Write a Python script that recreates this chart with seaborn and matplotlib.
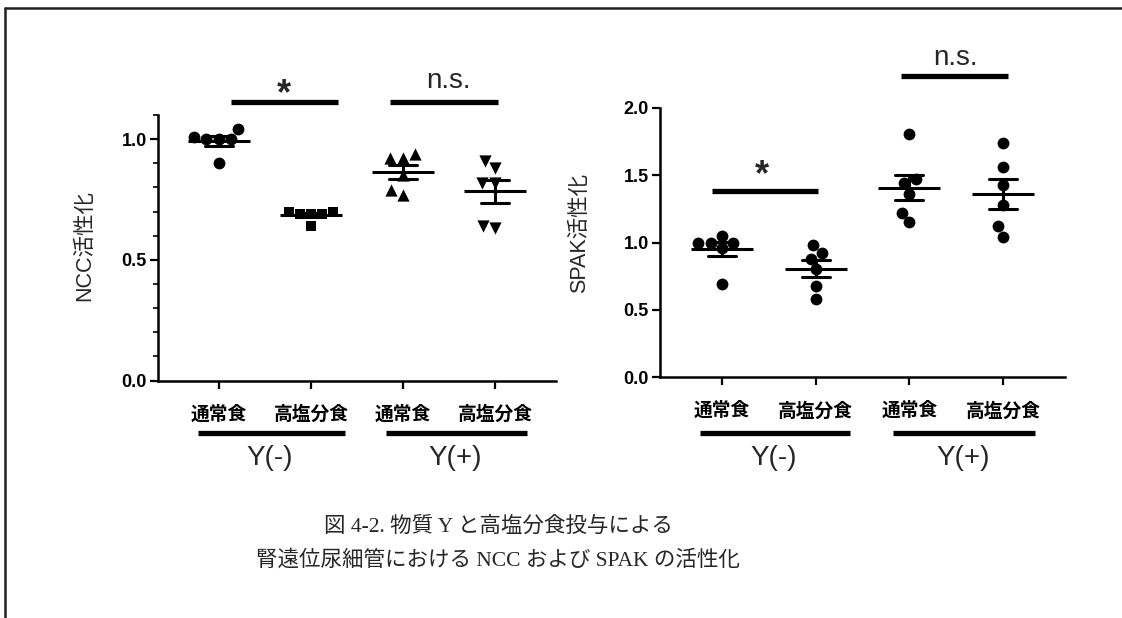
import numpy as np
import pandas as pd
import matplotlib
matplotlib.use("Agg")
import matplotlib.pyplot as plt
import matplotlib.transforms as mtrans
from matplotlib.lines import Line2D
import seaborn as sns

# ---------------- data ----------------
group_keys = ["Yneg_normal", "Yneg_salt", "Ypos_normal", "Ypos_salt"]
tick_labels = ["通常食", "高塩分食", "通常食", "高塩分食"]
group_labels = ["Y(-)", "Y(+)"]

ncc_yneg_normal = [1.01, 1.00, 1.00, 1.00, 1.04, 0.90]
ncc_yneg_salt = [0.70, 0.69, 0.70, 0.69, 0.69, 0.64]
ncc_ypos_normal = [0.92, 0.94, 0.92, 0.85, 0.77, 0.79]
ncc_ypos_salt = [0.91, 0.88, 0.82, 0.82, 0.63, 0.64]

spak_yneg_normal = [1.00, 1.00, 0.96, 1.00, 1.05, 0.69]
spak_yneg_salt = [0.92, 0.88, 0.98, 0.80, 0.68, 0.58]
spak_ypos_normal = [1.81, 1.44, 1.47, 1.36, 1.22, 1.15]
spak_ypos_salt = [1.74, 1.56, 1.43, 1.28, 1.12, 1.04]

ncc_markers = ["o", "s", "^", "v"]
spak_markers = ["o", "o", "o", "o"]

caption_lines = ["図 4-2. 物質 Y と高塩分食投与による",
                 "腎遠位尿細管における NCC および SPAK の活性化"]

# ---------------- style ----------------
sns.set_theme(style="ticks")
plt.rcParams["font.family"] = ["Liberation Sans", "Noto Sans CJK JP", "DejaVu Sans"]
plt.rcParams["axes.unicode_minus"] = False

W, H = 1122, 618
fig = plt.figure(figsize=(W / 100, H / 100), dpi=100)
fig.patch.set_facecolor("white")


def fy(py):
    return 1 - py / H


MARKER_SIZE = {"o": 8.5, "s": 7.6, "^": 8.8, "v": 8.8}


def panel(ax, series, markers, ylim, yticks, minor, ylabel, label_x, label_y):
    df = pd.DataFrame({
        "group": np.repeat(group_keys, [len(s) for s in series]),
        "value": np.concatenate([np.asarray(s, float) for s in series]),
    })
    for key, m in zip(group_keys, markers):
        sub = df[df["group"] == key]
        sns.swarmplot(data=sub, x="group", y="value", order=group_keys,
                      marker=m, color="black", size=MARKER_SIZE[m], ax=ax,
                      zorder=2)
    sns.pointplot(data=df, x="group", y="value", order=group_keys,
                  errorbar="se", capsize=0.3, color="black",
                  linestyle="none", marker="_", markersize=44,
                  markeredgewidth=2.2, err_kws={"linewidth": 2.2},
                  ax=ax, zorder=3)
    ax.set_xlim(-0.66, 3.66)
    ax.set_ylim(*ylim)
    sns.despine(ax=ax)
    for sp in ("left", "bottom"):
        ax.spines[sp].set_linewidth(1.8)
        ax.spines[sp].set_color("black")
    ax.set_yticks(yticks)
    ax.set_yticklabels([f"{t:.1f}" for t in yticks], fontsize=13,
                       fontweight="bold")
    if minor:
        ax.set_yticks(np.arange(0, ylim[1] + 1e-9, minor), minor=True)
    ax.tick_params(axis="y", which="major", length=6, width=1.6, pad=2,
                   colors="black")
    ax.tick_params(axis="y", which="minor", length=3.5, width=1.4)
    ax.set_xticks(range(len(group_keys)))
    ax.set_xticklabels(tick_labels, fontsize=13.5, fontweight="bold")
    ax.tick_params(axis="x", length=6, width=1.6, pad=12, colors="black")
    ax.set_xlabel("")
    ax.set_ylabel(ylabel, fontsize=15.5)
    ax.yaxis.set_label_coords(label_x, label_y)
    ax.set_facecolor("white")

    trans = mtrans.blended_transform_factory(ax.transData, fig.transFigure)
    for (x0, x1), lbl, cx in zip([(-0.23, 1.37), (1.82, 3.34)],
                                 group_labels, [0.55, 2.57]):
        ax.plot([x0, x1], [fy(433)] * 2, transform=trans, color="black",
                lw=3.8, clip_on=False, solid_capstyle="butt")
        ax.text(cx, fy(458), lbl, transform=trans, ha="center", va="center",
                fontsize=20)
    return trans


def sig(ax, trans, x0, x1, py_bar, text, tx, py_text, size, weight):
    ax.plot([x0, x1], [fy(py_bar)] * 2, transform=trans, color="black",
            lw=3.8, clip_on=False, solid_capstyle="butt")
    ax.text(tx, fy(py_text), text, transform=trans, ha="center",
            va="baseline", fontsize=size, fontweight=weight)


ax1 = fig.add_axes([158 / W, fy(380.5), 398 / W, (380.5 - 115) / H])
t1 = panel(ax1, [ncc_yneg_normal, ncc_yneg_salt, ncc_ypos_normal, ncc_ypos_salt],
           ncc_markers, (0, 1.1), [0.0, 0.5, 1.0], 0.1, "NCC活性化", -0.158, 0.51)
sig(ax1, t1, 0.13, 1.29, 101.7, "*", 0.71, 104, 26, "bold")
sig(ax1, t1, 1.86, 3.03, 101.7, "n.s.", 2.49, 88, 20, "normal")

ax2 = fig.add_axes([660 / W, fy(377), 405 / W, (377 - 108) / H])
t2 = panel(ax2, [spak_yneg_normal, spak_yneg_salt, spak_ypos_normal, spak_ypos_salt],
           spak_markers, (0, 2.0), [0.0, 0.5, 1.0, 1.5, 2.0], None, "SPAK活性化",
           -0.173, 0.535)
sig(ax2, t2, -0.11, 1.03, 191, "*", 0.43, 185, 26, "bold")
sig(ax2, t2, 1.91, 3.05, 75.7, "n.s.", 2.49, 65, 20, "normal")

# caption
cap_font = ["Liberation Serif", "Noto Sans CJK JP", "DejaVu Serif"]
fig.text(498 / W, fy(527), caption_lines[0], ha="center", va="center",
         fontsize=15.5, family=cap_font)
fig.text(498 / W, fy(560), caption_lines[1], ha="center", va="center",
         fontsize=15.5, family=cap_font)

# frame lines (top and left)
fig.add_artist(Line2D([5 / W, 1], [fy(8)] * 2, transform=fig.transFigure,
                      color="#222222", lw=1.8))
fig.add_artist(Line2D([5 / W] * 2, [0, fy(8)], transform=fig.transFigure,
                      color="#222222", lw=1.8))

fig.savefig("out.png", dpi=100, facecolor="white")
